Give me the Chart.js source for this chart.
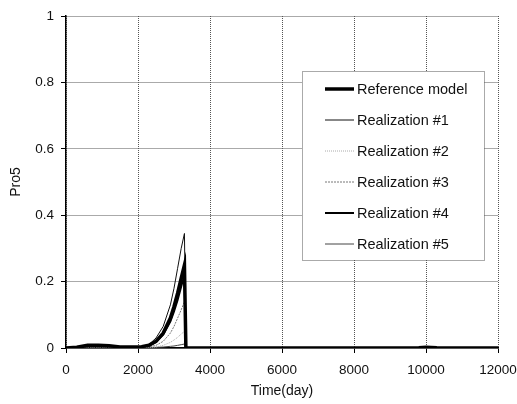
<!DOCTYPE html>
<html lang="en">
<head>
  <meta charset="UTF-8" />
  <title>Pro5</title>
  <script src="https://cdn.jsdelivr.net/npm/chart.js"></script>
  <style>
    html, body { margin: 0; padding: 0; background: #fff; }
    #wrap { width: 517px; height: 404px; }
  </style>
</head>
<body>
  <div id="wrap"><canvas id="chart" width="517" height="404"></canvas></div>

  <script>
    // time axis (days) shared by all series
    const days = [0, 300, 600, 900, 1200, 1500, 1800, 2100, 2300, 2500, 2700, 2900, 3000, 3100, 3200, 3290, 3330, 4000, 6000, 8000, 9800, 10000, 10300, 12000];

    const seriesNames = ['Reference model', 'Realization #1', 'Realization #2', 'Realization #3', 'Realization #4', 'Realization #5'];

    const refModel = [0, 0.002, 0.008, 0.008, 0.007, 0.003, 0.003, 0.004, 0.008, 0.02, 0.045, 0.09, 0.125, 0.165, 0.21, 0.25, 0, 0, 0, 0, 0.001, 0.002, 0.001, 0];
    const real1 = [0, 0.001, 0.003, 0.003, 0.003, 0.002, 0.002, 0.003, 0.01, 0.03, 0.065, 0.13, 0.18, 0.24, 0.3, 0.345, 0, 0, 0, 0, 0, 0.001, 0, 0];
    const real2 = [0, 0, 0.001, 0.001, 0.001, 0.001, 0.001, 0.001, 0.002, 0.003, 0.008, 0.017, 0.024, 0.032, 0.042, 0.05, 0, 0, 0, 0, 0, 0.001, 0, 0];
    const real3 = [0, 0.001, 0.002, 0.002, 0.002, 0.001, 0.001, 0.002, 0.003, 0.008, 0.02, 0.045, 0.065, 0.09, 0.115, 0.14, 0, 0, 0, 0, 0, 0.001, 0, 0];
    const real4 = [0, 0.001, 0.004, 0.005, 0.004, 0.002, 0.002, 0.003, 0.007, 0.018, 0.04, 0.08, 0.11, 0.145, 0.185, 0.22, 0, 0, 0, 0, 0, 0.001, 0, 0];
    const real5 = [0, 0, 0.001, 0.001, 0.001, 0.001, 0.001, 0.001, 0.001, 0.002, 0.003, 0.005, 0.006, 0.008, 0.01, 0.012, 0, 0, 0, 0, 0, 0.001, 0, 0];

    const xTicks = [0, 2000, 4000, 6000, 8000, 10000, 12000];
    const yTicks = [0, 0.2, 0.4, 0.6, 0.8, 1];

    const styles = [
      { color: '#000', width: 3.5, dash: [] },
      { color: '#111', width: 1, dash: [] },
      { color: '#aaa', width: 1, dash: [1, 1] },
      { color: '#777', width: 1, dash: [2, 1] },
      { color: '#000', width: 2, dash: [] },
      { color: '#444', width: 1, dash: [] }
    ];

    const values = [refModel, real1, real2, real3, real4, real5];
    const family = 'Arial, "Liberation Sans", sans-serif';
    const tickFont = { family, size: 13.5 };
    const titleFont = { family, size: 14 };
    const legendFont = { family, size: 14.5 };

    const datasets = values.map((vals, i) => ({
      label: seriesNames[i],
      data: days.map((d, k) => ({ x: d, y: vals[k] })),
      borderColor: styles[i].color,
      borderWidth: styles[i].width,
      borderDash: styles[i].dash,
      pointRadius: 0,
      tension: 0,
      fill: false
    }));

    // legend box drawn inside the plot area, upper right
    const insideLegend = {
      id: 'insideLegend',
      afterDraw(chart) {
        const { ctx, chartArea: a } = chart;
        const x0 = a.right - 196, x1 = a.right - 14;
        const y0 = a.top + 55, y1 = a.top + 244;
        ctx.save();
        ctx.fillStyle = '#fff';
        ctx.fillRect(x0, y0, x1 - x0, y1 - y0);
        ctx.strokeStyle = '#555';
        ctx.lineWidth = 1;
        ctx.setLineDash([1, 1]);
        ctx.strokeRect(x0 + 0.5, y0 + 0.5, x1 - x0, y1 - y0);
        ctx.font = `${legendFont.size}px ${legendFont.family}`;
        ctx.textBaseline = 'middle';
        ctx.fillStyle = '#111';
        chart.data.datasets.forEach((ds, i) => {
          const y = y0 + 18 + i * 31;
          ctx.strokeStyle = ds.borderColor;
          ctx.lineWidth = ds.borderWidth;
          ctx.setLineDash(ds.borderDash);
          ctx.beginPath();
          ctx.moveTo(x0 + 23, y);
          ctx.lineTo(x0 + 52, y);
          ctx.stroke();
          ctx.fillText(ds.label, x0 + 55, y + 1);
        });
        ctx.restore();
      }
    };

    const plain = v => String(v);

    new Chart(document.getElementById('chart'), {
      type: 'line',
      data: { datasets },
      plugins: [insideLegend],
      options: {
        responsive: false,
        animation: false,
        layout: { padding: { top: 16, right: 19, left: 0, bottom: 0 } },
        plugins: { legend: { display: false }, tooltip: { enabled: false } },
        scales: {
          x: {
            type: 'linear',
            min: 0,
            max: 12000,
            afterBuildTicks: s => { s.ticks = xTicks.map(v => ({ value: v })); },
            afterFit: s => { s.height = 56; s.paddingLeft = 0; s.paddingRight = 0; },
            ticks: { font: tickFont, color: '#111', padding: 9, maxRotation: 0, callback: plain },
            grid: { color: '#555', tickColor: '#000', tickLength: 5, tickBorderDash: [] },
            border: { color: '#000', width: 1.5, dash: [1, 1] },
            title: { display: true, text: 'Time(day)', font: titleFont, color: '#111', padding: { top: 2, bottom: 4 } }
          },
          y: {
            min: 0,
            max: 1,
            afterBuildTicks: s => { s.ticks = yTicks.map(v => ({ value: v })); },
            afterFit: s => { s.width = 66; s.paddingTop = 0; s.paddingBottom = 0; },
            ticks: { font: tickFont, color: '#111', padding: 7, callback: plain },
            grid: { color: '#555', tickColor: '#000', tickLength: 5, tickBorderDash: [] },
            border: { color: '#000', width: 1.5, dash: [1, 1] },
            title: { display: true, text: 'Pro5', font: titleFont, color: '#111', padding: { top: 8, bottom: 4 } }
          }
        }
      }
    });
  </script>
</body>
</html>
